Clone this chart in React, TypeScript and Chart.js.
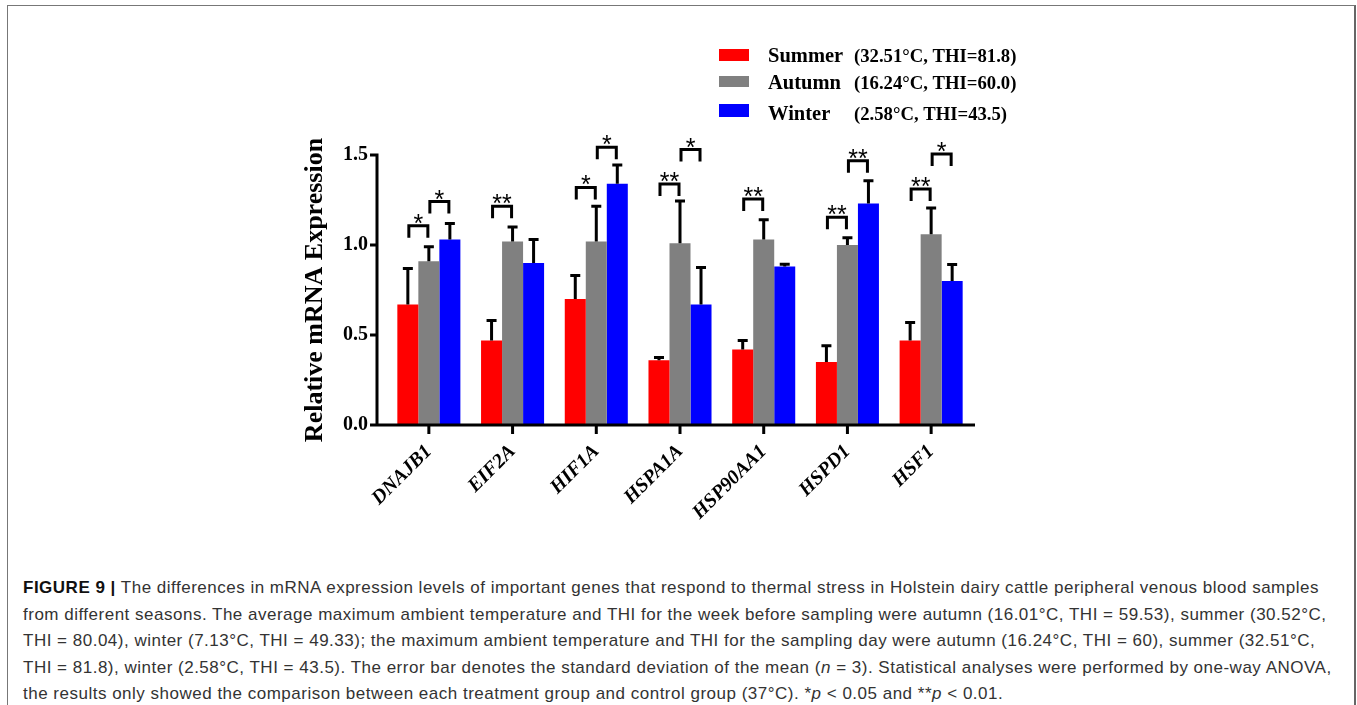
import React, { useEffect, useRef } from 'react';
import { Chart, registerables } from 'chart.js';

Chart.register(...registerables);

const categories = ['DNAJB1', 'EIF2A', 'HIF1A', 'HSPA1A', 'HSP90AA1', 'HSPD1', 'HSF1'];

const seriesLabels = ['Summer', 'Autumn', 'Winter'];
const seriesNotes = ['(32.51°C, THI=81.8)', '(16.24°C, THI=60.0)', '(2.58°C, THI=43.5)'];
const seriesColors = ['#ff0000', '#808080', '#0000ff'];

const summerMean = [0.67, 0.47, 0.70, 0.36, 0.42, 0.35, 0.47];
const summerSD = [0.20, 0.11, 0.13, 0.015, 0.05, 0.09, 0.10];
const autumnMean = [0.91, 1.02, 1.02, 1.01, 1.03, 1.00, 1.06];
const autumnSD = [0.08, 0.08, 0.195, 0.235, 0.11, 0.04, 0.145];
const winterMean = [1.03, 0.90, 1.34, 0.67, 0.88, 1.23, 0.80];
const winterSD = [0.09, 0.13, 0.105, 0.205, 0.013, 0.127, 0.092];

// significance brackets: Summer vs Autumn, Autumn vs Winter (y = top of bracket)
const sigSAy = [1.107, 1.215, 1.32, 1.339, 1.256, 1.154, 1.311];
const sigSAlabel = ['*', '**', '*', '**', '**', '**', '**'];
const sigAWy = [1.241, null, 1.543, 1.53, null, 1.468, 1.506];
const sigAWlabel = ['*', '', '*', '*', '', '**', '*'];

const yTicks = [0, 0.5, 1.0, 1.5];
const yTitle = 'Relative mRNA Expression';

const means = [summerMean, autumnMean, winterMean];
const sds = [summerSD, autumnSD, winterSD];

const SERIF = "'Liberation Serif', 'Times New Roman', serif";

const overlayPlugin = {
  id: 'overlay',
  afterDraw(chart: any) {
    const ctx: CanvasRenderingContext2D = chart.ctx;
    const xs = chart.scales.x;
    const ys = chart.scales.y;
    const area = chart.chartArea;
    ctx.save();
    ctx.strokeStyle = '#000';
    ctx.fillStyle = '#000';
    ctx.lineWidth = 3;
    ctx.lineCap = 'butt';
    ctx.lineJoin = 'miter';

    // error bars
    means.forEach((m, di) => {
      const meta = chart.getDatasetMeta(di);
      meta.data.forEach((bar: any, i: number) => {
        const yTop = ys.getPixelForValue(m[i] + sds[di][i]);
        const yBar = ys.getPixelForValue(m[i]);
        ctx.beginPath();
        ctx.moveTo(bar.x, yBar);
        ctx.lineTo(bar.x, yTop);
        ctx.moveTo(bar.x - 5, yTop);
        ctx.lineTo(bar.x + 5, yTop);
        ctx.stroke();
      });
    });

    // axes
    const axisX = area.left - 10;
    const y0 = ys.getPixelForValue(0);
    const y1 = ys.getPixelForValue(1.5);
    ctx.beginPath();
    ctx.moveTo(axisX, y1 - 1.5);
    ctx.lineTo(axisX, y0 + 1.5);
    ctx.moveTo(axisX - 1.5, y0);
    ctx.lineTo(area.right + 2, y0);
    yTicks.forEach((v) => {
      const py = ys.getPixelForValue(v);
      ctx.moveTo(axisX, py);
      ctx.lineTo(axisX - 7, py);
    });
    categories.forEach((_, i) => {
      const px = xs.getPixelForValue(i);
      ctx.moveTo(px, y0);
      ctx.lineTo(px, y0 + 9);
    });
    ctx.stroke();

    // significance brackets
    const m0 = chart.getDatasetMeta(0).data;
    const m1 = chart.getDatasetMeta(1).data;
    const m2 = chart.getDatasetMeta(2).data;
    const drawBracket = (xa: number, xb: number, yv: number, label: string) => {
      const py = ys.getPixelForValue(yv);
      ctx.beginPath();
      ctx.moveTo(xa, py + 12);
      ctx.lineTo(xa, py);
      ctx.lineTo(xb, py);
      ctx.lineTo(xb, py + 12);
      ctx.stroke();
      ctx.font = "25px 'Liberation Sans', Arial, sans-serif";
      ctx.textAlign = 'center';
      ctx.textBaseline = 'alphabetic';
      ctx.fillText(label, (xa + xb) / 2, py + 6);
    };
    categories.forEach((_, i) => {
      if (sigSAy[i] != null) drawBracket(m0[i].x + 1, m1[i].x - 1, sigSAy[i] as number, sigSAlabel[i]);
      if (sigAWy[i] != null) drawBracket(m1[i].x + 1, m2[i].x - 1, sigAWy[i] as number, sigAWlabel[i]);
    });

    // legend
    const rows = [
      { sw: [719, 49, 30, 12], base: 61.5 },
      { sw: [719, 76, 30, 11], base: 88.5 },
      { sw: [719, 104, 30, 13], base: 120 },
    ];
    rows.forEach((r, k) => {
      ctx.fillStyle = seriesColors[k];
      ctx.fillRect(r.sw[0], r.sw[1], r.sw[2], r.sw[3]);
      ctx.fillStyle = '#000';
      ctx.textAlign = 'left';
      ctx.textBaseline = 'alphabetic';
      ctx.font = `bold 20.5px ${SERIF}`;
      ctx.fillText(seriesLabels[k], 768, r.base);
      ctx.font = `bold 18.7px ${SERIF}`;
      ctx.fillText(seriesNotes[k], 854, r.base);
    });
    ctx.restore();
  },
};

export default function App() {
  const ref = useRef<HTMLCanvasElement>(null);
  useEffect(() => {
    const canvas = ref.current!;
    const chart = new Chart(canvas, {
      type: 'bar',
      data: {
        labels: categories,
        datasets: means.map((m, k) => ({
          label: seriesLabels[k] + ' ' + seriesNotes[k],
          data: m,
          backgroundColor: seriesColors[k],
          borderWidth: 0,
          barPercentage: 1,
          categoryPercentage: 0.753,
        })),
      },
      options: {
        responsive: false,
        animation: false,
        devicePixelRatio: 1,
        layout: { padding: { left: 287, right: 384, top: 155, bottom: 0 } },
        plugins: { legend: { display: false }, tooltip: { enabled: false }, title: { display: false } },
        scales: {
          x: {
            type: 'category',
            offset: true,
            grid: { display: false, drawTicks: false },
            border: { display: false },
            ticks: {
              autoSkip: false,
              maxRotation: 45,
              minRotation: 45,
              padding: 15,
              color: '#000',
              font: { family: SERIF, size: 20, weight: 'bold', style: 'italic' },
            },
            afterFit: (s: any) => { s.height = 135; },
          },
          y: {
            min: 0,
            max: 1.5,
            grid: { display: false, drawTicks: false },
            border: { display: false },
            ticks: {
              stepSize: 0.5,
              padding: 19,
              color: '#000',
              font: { family: SERIF, size: 20, weight: 'bold' },
              callback: (v: any) => Number(v).toFixed(1),
            },
            title: {
              display: true,
              text: yTitle,
              color: '#000',
              padding: { top: 13, bottom: 0 },
              font: { family: SERIF, size: 26, weight: 'bold' },
            },
            afterFit: (s: any) => { s.width = 100; },
          },
        },
      } as any,
      plugins: [overlayPlugin],
    });
    return () => chart.destroy();
  }, []);

  return (
    <div style={{ position: 'absolute', left: 0, top: 0, width: 1357, height: 705, overflow: 'hidden', background: '#fff' }}>
      <div
        style={{
          position: 'absolute', left: 7, top: 5, width: 1349, height: 760, boxSizing: 'border-box',
          borderTop: '1.5px solid #777', borderLeft: '1.5px solid #777', borderRight: '2px solid #666',
        }}
      />
      <canvas ref={ref} width={1357} height={560} style={{ position: 'absolute', left: 0, top: 0, width: 1357, height: 560 }} />
      <div
        style={{
          position: 'absolute', left: 23, top: 575, fontFamily: "'Liberation Sans', Arial, sans-serif",
          fontSize: 17, letterSpacing: '0.5px', lineHeight: '26.5px', color: '#333', whiteSpace: 'nowrap',
        }}
      >
        <b style={{ color: '#111' }}>FIGURE 9 |</b> The differences in mRNA expression levels of important genes that respond to thermal stress in Holstein dairy cattle peripheral venous blood samples
        <br />
        from different seasons. The average maximum ambient temperature and THI for the week before sampling were autumn (16.01°C, THI = 59.53), summer (30.52°C,
        <br />
        THI = 80.04), winter (7.13°C, THI = 49.33); the maximum ambient temperature and THI for the sampling day were autumn (16.24°C, THI = 60), summer (32.51°C,
        <br />
        THI = 81.8), winter (2.58°C, THI = 43.5). The error bar denotes the standard deviation of the mean (<i>n</i> = 3). Statistical analyses were performed by one-way ANOVA,
        <br />
        the results only showed the comparison between each treatment group and control group (37°C). *<i>p</i> &lt; 0.05 and **<i>p</i> &lt; 0.01.
      </div>
    </div>
  );
}
